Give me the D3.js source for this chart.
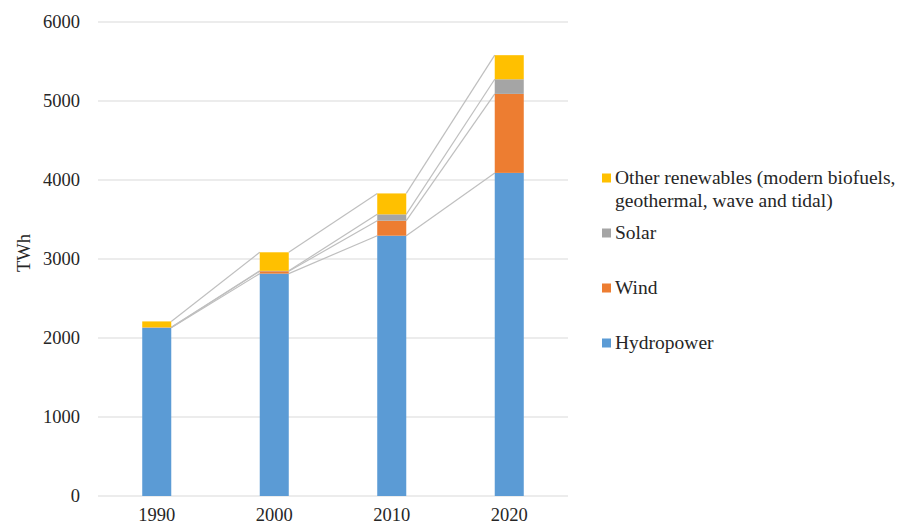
<!DOCTYPE html>
<html>
<head>
<meta charset="utf-8">
<script src="https://cdn.jsdelivr.net/npm/d3@7/dist/d3.min.js"></script>
<style>
  html, body { margin: 0; padding: 0; background: #fff; }
  svg { display: block; }
</style>
</head>
<body>
<svg id="chart" width="898" height="526"></svg>
<script>
// Electricity generation from renewables, TWh
const years = ["1990", "2000", "2010", "2020"];
const hydropower = [2130, 2815, 3295, 4090];
const wind = [4, 30, 190, 1000];
const solar = [1, 5, 80, 185];
const otherRenewables = [75, 235, 265, 305];
const yTicks = [0, 1000, 2000, 3000, 4000, 5000, 6000];

const seriesNames = ["Hydropower", "Wind", "Solar", "Other renewables"];
const seriesColors = ["#5b9bd5", "#ed7d31", "#a5a5a5", "#ffc000"];
const legendLabels = [
  ["Other renewables (modern biofuels,", "geothermal, wave and tidal)"],
  ["Solar"],
  ["Wind"],
  ["Hydropower"]
];

const rows = years.map((y, i) => ({
  year: y,
  "Hydropower": hydropower[i],
  "Wind": wind[i],
  "Solar": solar[i],
  "Other renewables": otherRenewables[i]
}));

const FONT = "'Liberation Serif', 'Times New Roman', serif";
const textColor = "#262626";
const svg = d3.select("#chart");
const x = d3.scaleBand().domain(years).range([98, 568]).paddingInner(0.753).paddingOuter(0.3765);
const y = d3.scaleLinear().domain([0, 6000]).range([496, 22]);

function styleText(sel, size) {
  return sel.attr("font-family", FONT)
    .style("font-family", FONT)
    .attr("font-size", size)
    .style("font-size", size + "px")
    .attr("fill", textColor);
}

// gridlines
svg.append("g")
  .selectAll("line")
  .data(yTicks)
  .join("line")
  .attr("x1", 98).attr("x2", 568)
  .attr("y1", d => y(d)).attr("y2", d => y(d))
  .attr("stroke", "#d9d9d9").attr("stroke-width", 1);

// y tick labels
svg.append("g")
  .selectAll("text")
  .data(yTicks)
  .join("text")
  .attr("x", 80).attr("y", d => y(d))
  .attr("dy", "0.34em")
  .attr("text-anchor", "end")
  .call(styleText, 18.5)
  .text(d => d);

// y axis title
svg.append("text")
  .attr("transform", "translate(30,253) rotate(-90)")
  .attr("text-anchor", "middle")
  .call(styleText, 18.5)
  .text("TWh");

// x labels
svg.append("g")
  .selectAll("text")
  .data(years)
  .join("text")
  .attr("x", d => x(d) + x.bandwidth() / 2)
  .attr("y", 521)
  .attr("text-anchor", "middle")
  .call(styleText, 18.5)
  .text(d => d);

const stack = d3.stack().keys(seriesNames)(rows);

// series lines between adjacent stacks
const lineLayer = svg.append("g");
stack.forEach(layer => {
  for (let i = 0; i < layer.length - 1; i++) {
    lineLayer.append("line")
      .attr("x1", x(years[i]) + x.bandwidth())
      .attr("y1", y(layer[i][1]))
      .attr("x2", x(years[i + 1]))
      .attr("y2", y(layer[i + 1][1]))
      .attr("stroke", "#bfbfbf")
      .attr("stroke-width", 1.2);
  }
});

// stacked bars
svg.append("g")
  .selectAll("g")
  .data(stack)
  .join("g")
  .attr("fill", (d, i) => seriesColors[i])
  .selectAll("rect")
  .data(d => d)
  .join("rect")
  .attr("x", d => x(d.data.year))
  .attr("width", x.bandwidth())
  .attr("y", d => y(d[1]))
  .attr("height", d => y(d[0]) - y(d[1]));

// legend
const legendY = [178, 233, 288, 343];
const legendColors = ["#ffc000", "#a5a5a5", "#ed7d31", "#5b9bd5"];
const legend = svg.append("g");
legendLabels.forEach((lines, i) => {
  legend.append("rect")
    .attr("x", 602).attr("y", legendY[i] - 4.5)
    .attr("width", 9).attr("height", 9)
    .attr("fill", legendColors[i]);
  lines.forEach((t, j) => {
    legend.append("text")
      .attr("x", 615).attr("y", legendY[i] + 6 + j * 22.5)
      .call(styleText, 19.5)
      .text(t);
  });
});
</script>
</body>
</html>
